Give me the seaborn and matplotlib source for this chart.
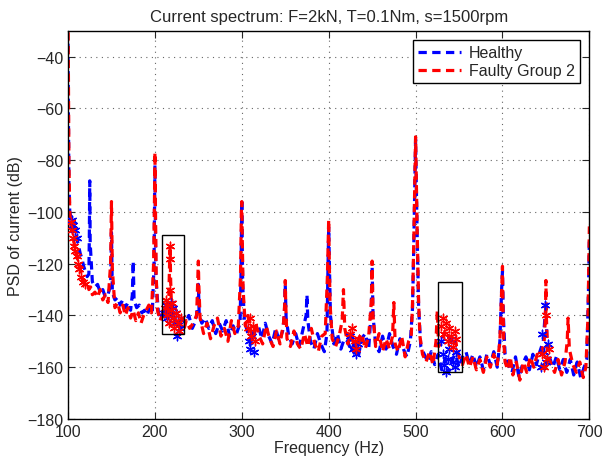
import numpy as np
import pandas as pd
import matplotlib
matplotlib.use("Agg")
import matplotlib.pyplot as plt
import seaborn as sns

# Spektrum arus (Hz, dB)
healthy_freq = [
    100, 100.4, 101, 102, 104, 106, 108, 110, 112, 114, 116, 118, 120, 122, 124,
    124.5, 125, 125.5, 128, 131, 134, 137, 140, 143, 146, 149,
    150, 151, 154, 157, 160, 163, 166, 169, 172, 174,
    175, 176, 179, 182, 185, 188, 191, 194, 197, 199,
    200, 201, 204, 207, 211, 215, 219, 223, 227, 231, 235, 239, 243, 247, 249,
    250, 251, 254, 258, 262, 266, 270, 274, 278, 282, 286, 290, 294, 298, 299,
    300, 301, 303, 307, 311, 315, 319, 323, 327, 331, 335, 339, 343, 347, 349,
    350, 351, 354, 358, 362, 366, 370, 374,
    375, 376, 379, 383, 387, 391, 395, 398, 399,
    400, 401, 402, 406, 410, 414, 418, 422, 426, 430, 434, 438, 442, 446, 449,
    450, 451, 454, 458, 462, 466, 470, 474, 478, 482, 486, 490, 494, 496.5, 498, 499.3,
    500, 500.7, 502, 503.5, 506, 510, 514, 518, 522, 526, 530, 534, 538, 542, 546,
    550, 554, 558, 562, 566, 570, 574, 578, 582, 586, 590, 594, 597, 599,
    600, 601, 603, 607, 611, 615, 619, 623, 627, 631, 635, 639, 643, 647, 649,
    650, 651, 654, 658, 662, 666, 670, 674, 678, 682, 686, 690, 694, 697, 699, 700,
]
healthy_db = [
    -35, -60, -88, -100, -103, -105, -108, -110, -113, -116, -118, -121, -123, -125, -124,
    -110, -88, -112, -127, -129, -128, -131, -130, -133, -132, -128,
    -108, -131, -134, -133, -136, -134, -137, -135, -138, -132,
    -119, -134, -137, -136, -139, -138, -140, -137, -139, -120,
    -82, -125, -139, -141, -138, -136, -139, -142, -144, -141, -143, -140, -145, -142, -137,
    -128, -140, -143, -141, -145, -142, -147, -143, -146, -142, -148, -144, -147, -143, -125,
    -95, -128, -142, -147, -151, -146, -144, -149, -143, -148, -151, -145, -150, -146, -140,
    -128, -141, -148, -151, -147, -152, -146, -140,
    -132, -142, -150, -153, -147, -151, -154, -147, -125,
    -106, -122, -140, -151, -147, -153, -149, -150, -154, -150, -156, -149, -147, -153, -138,
    -121, -140, -151, -154, -148, -153, -147, -152, -155, -149, -153, -156, -150, -137, -112, -87,
    -72, -87, -112, -137, -152, -155, -158, -154, -159, -155, -161, -157, -162, -157, -155,
    -160, -156, -154, -159, -155, -160, -156, -161, -155, -159, -154, -160, -150, -130,
    -123, -140, -155, -159, -162, -156, -164, -159, -156, -161, -155, -159, -154, -150, -140,
    -137, -148, -156, -160, -156, -161, -157, -162, -157, -163, -158, -164, -160, -157, -130, -110,
]

faulty_freq = [
    100, 100.5, 101, 102, 103, 104, 106, 108, 110, 112, 114, 116, 118, 120, 122, 124, 126, 128,
    131, 134, 137, 140, 143, 146, 149, 150, 151, 154, 157, 160, 163, 166, 169, 172, 175,
    178, 181, 184, 187, 190, 193, 196, 198.5, 199.5,
    200, 200.5, 201.5, 203, 206, 209, 212, 214, 216, 217, 217.5, 218, 219, 221, 224,
    227, 230, 233, 236, 240, 244, 248, 249.5,
    250, 250.5, 252, 256, 260, 264, 268, 272, 276, 280, 284, 288, 292, 296, 298.5, 299.5,
    300, 300.5, 301.5, 304, 307, 310, 313, 316, 320, 324, 328, 332, 336, 340, 344, 348, 349.5,
    350, 350.5, 352, 356, 360, 364, 368, 372, 376, 380, 384, 388, 392, 396, 398.5, 399.5,
    400, 400.5, 401.5, 404, 408, 412, 415.5, 417, 418.5, 422, 426, 430, 434, 438, 442, 446,
    449, 450, 451, 454,
    458, 462, 466, 470, 473.5, 475, 476.5, 480, 484, 488, 492, 495, 496.5, 498, 499.3,
    500, 500.7, 502, 503.5, 505,
    508, 512, 516, 520, 523.5, 525, 526.5, 530, 534, 538, 542, 546, 550, 554, 558,
    562, 566, 570, 574, 578, 582, 586, 590, 594, 597, 599,
    600, 600.5, 601.5, 603, 606, 609, 612, 616, 620, 624, 628, 632, 636, 640, 644, 648,
    649.5, 650, 650.5, 652, 656, 660, 664, 668, 672, 674.5, 675.5, 677, 681, 685, 689,
    693, 696, 698.5, 699.5, 700,
]
faulty_db = [
    -20, -50, -80, -100, -104, -107, -110, -114, -117, -120, -122, -125, -127, -128, -127, -130, -129, -132,
    -131, -133, -130, -134, -132, -135, -120, -96, -122, -137, -135, -139, -136, -140, -137, -141, -138,
    -142, -139, -143, -140, -138, -136, -139, -120, -95,
    -77, -95, -125, -138, -142, -139, -137, -140, -133, -118, -113, -125, -136, -140, -143,
    -141, -144, -146, -142, -145, -143, -140, -125,
    -119, -128, -141, -147, -143, -149, -144, -141, -148, -145, -150, -142, -147, -144, -125, -100,
    -96, -110, -130, -144, -140, -146, -149, -143, -148, -151, -144, -149, -152, -146, -151, -143, -135,
    -126.5, -135, -149, -152, -146, -151, -153, -147, -152, -145, -151, -154, -148, -147, -125, -110,
    -103, -115, -135, -149, -152, -148, -142, -130, -145, -151, -147, -154, -149, -147, -153, -148,
    -135, -119, -140, -152,
    -147, -154, -149, -153, -148, -135, -151, -154, -148, -156, -150, -148, -135, -110, -85,
    -71, -85, -110, -135, -148,
    -155, -158, -154, -159, -150, -138, -152, -150, -146, -148, -152, -150, -156, -159, -155,
    -160, -156, -161, -157, -162, -156, -160, -155, -159, -150, -130,
    -121, -135, -150, -158, -161, -156, -163, -158, -165, -158, -162, -156, -160, -155, -156, -150,
    -140, -126.5, -140, -155, -159, -162, -157, -163, -158, -150, -141, -153, -159, -162, -158,
    -164, -160, -140, -118, -105.6,
]

# Titik bertanda bintang (pita frekuensi kerusakan)
healthy_star_freq = [104, 106, 108, 110,
                     211, 213, 214, 216, 218, 219, 221, 222, 224, 225, 227, 229,
                     308, 310, 312, 314,
                     425, 428, 431, 434,
                     529, 531, 533, 535, 537, 539, 541, 543, 545, 547,
                     644, 646, 648, 649, 650, 652]
healthy_star_db = [-103, -105, -107, -110,
                   -139, -136, -141, -138, -135, -140, -137, -143, -139, -148, -142, -145,
                   -150, -153, -148, -154,
                   -148, -153, -155, -151,
                   -150, -155, -159, -162, -157, -153, -149, -158, -160, -154,
                   -160, -147, -154, -136, -158, -151]

faulty_star_freq = [103, 104, 106, 107, 108, 110, 111, 113, 115, 117, 120,
                    217.5, 217.2, 217.8, 212, 213, 214, 215, 216, 219, 220, 221, 222, 224, 226, 228, 230,
                    307, 309, 311, 313, 315,
                    425, 427, 430, 432, 435,
                    529, 531, 533, 535, 537, 539, 541, 543, 545, 547,
                    646, 648, 650, 651, 653]
faulty_star_db = [-104, -107, -110, -113, -115, -117, -120, -122, -125, -127, -128,
                  -113, -118, -130, -137, -134, -140, -136, -143, -138, -135, -141, -145, -139, -143, -146, -141,
                  -145, -141, -148, -144, -150,
                  -147, -145, -150, -153, -149,
                  -144, -141, -147, -143, -150, -145, -148, -152, -146, -149,
                  -155, -160, -140, -157, -153]

healthy = pd.DataFrame({"freq": healthy_freq, "psd": healthy_db})
faulty = pd.DataFrame({"freq": faulty_freq, "psd": faulty_db})

sns.set_style("ticks")
plt.rcParams["font.family"] = ["Liberation Sans", "DejaVu Sans"]
plt.rcParams["lines.dashed_pattern"] = [2.6, 1.7]

fig = plt.figure(figsize=(6.02, 4.60), dpi=100)
ax = fig.add_axes([0.113, 0.087, 0.866, 0.844])

sns.lineplot(data=healthy, x="freq", y="psd", ax=ax, color="#0000ff", linewidth=2.3,
             linestyle="--", sort=False, estimator=None, label="Healthy")
sns.lineplot(data=faulty, x="freq", y="psd", ax=ax, color="#ff0000", linewidth=2.3,
             linestyle="--", sort=False, estimator=None, label="Faulty Group 2")
sns.scatterplot(x=healthy_star_freq, y=healthy_star_db, ax=ax, marker=(6, 2, 0), s=38,
                color="#0000ff", edgecolor="#0000ff", linewidth=1.0, zorder=3)
sns.scatterplot(x=faulty_star_freq, y=faulty_star_db, ax=ax, marker=(6, 2, 0), s=38,
                color="#ff0000", edgecolor="#ff0000", linewidth=1.0, zorder=3)

# kotak penanda pita frekuensi
ax.add_patch(plt.Rectangle((208, -147), 26, 38, fill=False, edgecolor="black", linewidth=1, zorder=4))
ax.add_patch(plt.Rectangle((526, -162), 27, 35, fill=False, edgecolor="black", linewidth=1, zorder=4))

ax.set_xlim(100, 700)
ax.set_ylim(-180, -30)
ax.set_xticks(range(100, 701, 100))
ax.set_yticks(range(-180, -39, 20))
ax.grid(True, linestyle=(0, (1, 4)), color="0.4", linewidth=0.8)
ax.tick_params(direction="in", top=True, right=True, length=5, labelsize=11.5)
for s in ax.spines.values():
    s.set_linewidth(1.0)
    s.set_color("black")

ax.set_title("Current spectrum: F=2kN, T=0.1Nm, s=1500rpm", fontsize=12, pad=7)
ax.set_xlabel("Frequency (Hz)", fontsize=11.5, labelpad=1)
ax.set_ylabel("PSD of current (dB)", fontsize=11.5, labelpad=3)

leg = ax.legend(loc="upper right", fontsize=11.5, frameon=True, fancybox=False,
                edgecolor="black", framealpha=1, borderpad=0.3, handlelength=2.7,
                handletextpad=0.5, labelspacing=0.2, borderaxespad=0.6)
leg.get_frame().set_linewidth(1.0)

fig.savefig("out.png", dpi=100)
